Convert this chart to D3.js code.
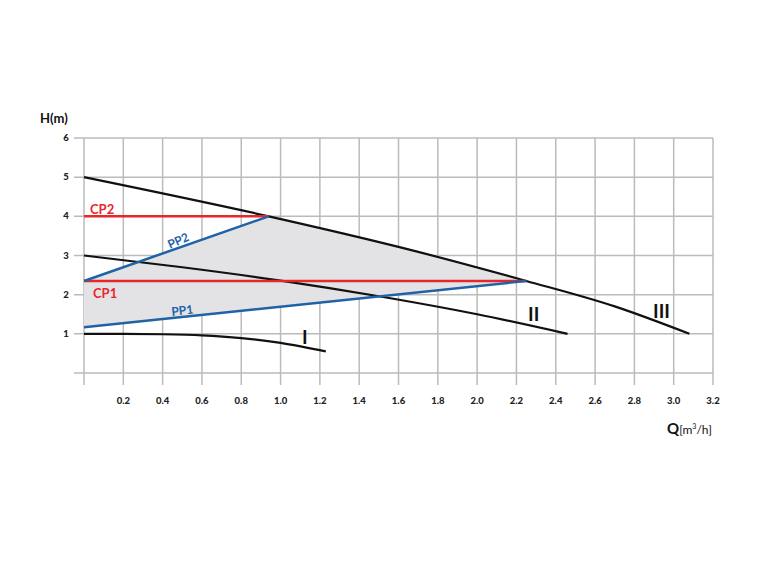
<!DOCTYPE html><html><head><meta charset="utf-8">
<script src="https://cdn.jsdelivr.net/npm/d3@7"></script>
<style>body{margin:0;background:#fff}text{font-family:Lato,sans-serif}</style></head><body>
<svg id="c" width="774" height="570"></svg>
<script>
const xTicks=[0.2,0.4,0.6,0.8,1.0,1.2,1.4,1.6,1.8,2.0,2.2,2.4,2.6,2.8,3.0,3.2];
const yTicks=[1,2,3,4,5,6];
const curveI=[[0,1],[0.2,1.0],[0.4,0.99],[0.6,0.96],[0.8,0.89],[1.0,0.77],[1.23,0.55]];
const curveII=[[0,3],[0.5,2.7],[1.0,2.36],[1.5,1.96],[2.0,1.5],[2.46,1.0]];
const curveIII=[[0,5],[0.94,4.0],[1.6,3.22],[2.25,2.35],[2.7,1.7],[3.08,1.0]];
const cp2=[[0,4],[0.94,4]], cp1=[[0,2.35],[2.25,2.35]];
const pp2=[[0,2.35],[0.94,4]], pp1=[[0,1.17],[2.25,2.35]];
const svg=d3.select("#c");
const x=d3.scaleLinear().domain([0,3.2]).range([84,713]);
const y=d3.scaleLinear().domain([0,6]).range([373,138]);
const g=svg.append("g");
xTicks.concat([0]).forEach(t=>g.append("line").attr("x1",x(t)).attr("x2",x(t)).attr("y1",y(6)).attr("y2",y(0)+12).attr("stroke","#bbb").attr("stroke-width",1.5));
[0].concat(yTicks).forEach(t=>g.append("line").attr("x1",x(0)-10).attr("x2",x(3.2)).attr("y1",y(t)).attr("y2",y(t)).attr("stroke","#bbb").attr("stroke-width",1.5));
xTicks.forEach(t=>g.append("text").attr("x",x(t)).attr("y",404).attr("text-anchor","middle").attr("font-size",9.5).attr("font-weight","900").attr("fill","#222").text(t.toFixed(1)));
yTicks.forEach(t=>g.append("text").attr("x",x(0)-18).attr("y",y(t)+3).attr("text-anchor","middle").attr("font-size",9.5).attr("font-weight","900").attr("fill","#222").text(t));
const cl=d3.line().x(d=>x(d[0])).y(d=>y(d[1])).curve(d3.curveMonotoneX);
const line=d3.line().x(d=>x(d[0])).y(d=>y(d[1]));
const iii=curveIII.filter(p=>p[0]>=0.94&&p[0]<=2.25).reverse();
const poly=[pp1[0],pp1[1]].concat(iii).concat([pp2[0]]);
g.append("path").attr("d",line(poly)+"Z").attr("fill","#e3e3e5");
[curveI,curveII,curveIII].forEach(c=>g.append("path").attr("d",cl(c)).attr("fill","none").attr("stroke","#111").attr("stroke-width",2.2));
[cp2,cp1].forEach(c=>g.append("path").attr("d",line(c)).attr("stroke","#e8262b").attr("stroke-width",2.5));
[pp2,pp1].forEach(c=>g.append("path").attr("d",line(c)).attr("stroke","#1f62a6").attr("stroke-width",2.5));
const lab=(t,px,py,col,fs,rot)=>g.append("text").attr("transform",`translate(${px},${py}) rotate(${rot||0})`).attr("font-size",fs).attr("font-weight","bold").attr("fill",col).text(t);
lab("CP2",90,214,"#e8262b",13);
lab("CP1",93,298,"#e8262b",13);
lab("PP2",170,249,"#1f62a6",12,-24);
lab("PP1",172,316,"#1f62a6",12,-7);
lab("I",302,344,"#111",19);
lab("II",528,321,"#111",19);
lab("III",653,318,"#111",19);
svg.append("text").attr("x",40).attr("y",123).attr("font-size",13).attr("font-weight","bold").attr("fill","#111").text("H(m)");
const q=svg.append("text").attr("x",667).attr("y",434).attr("fill","#111");
q.append("tspan").attr("font-size",15).attr("font-weight","bold").text("Q");
q.append("tspan").attr("font-size",12).text("[m");
q.append("tspan").attr("font-size",7).attr("dy",-5).text("3");
q.append("tspan").attr("font-size",12).attr("dy",5).text("/h]");
</script></body></html>
